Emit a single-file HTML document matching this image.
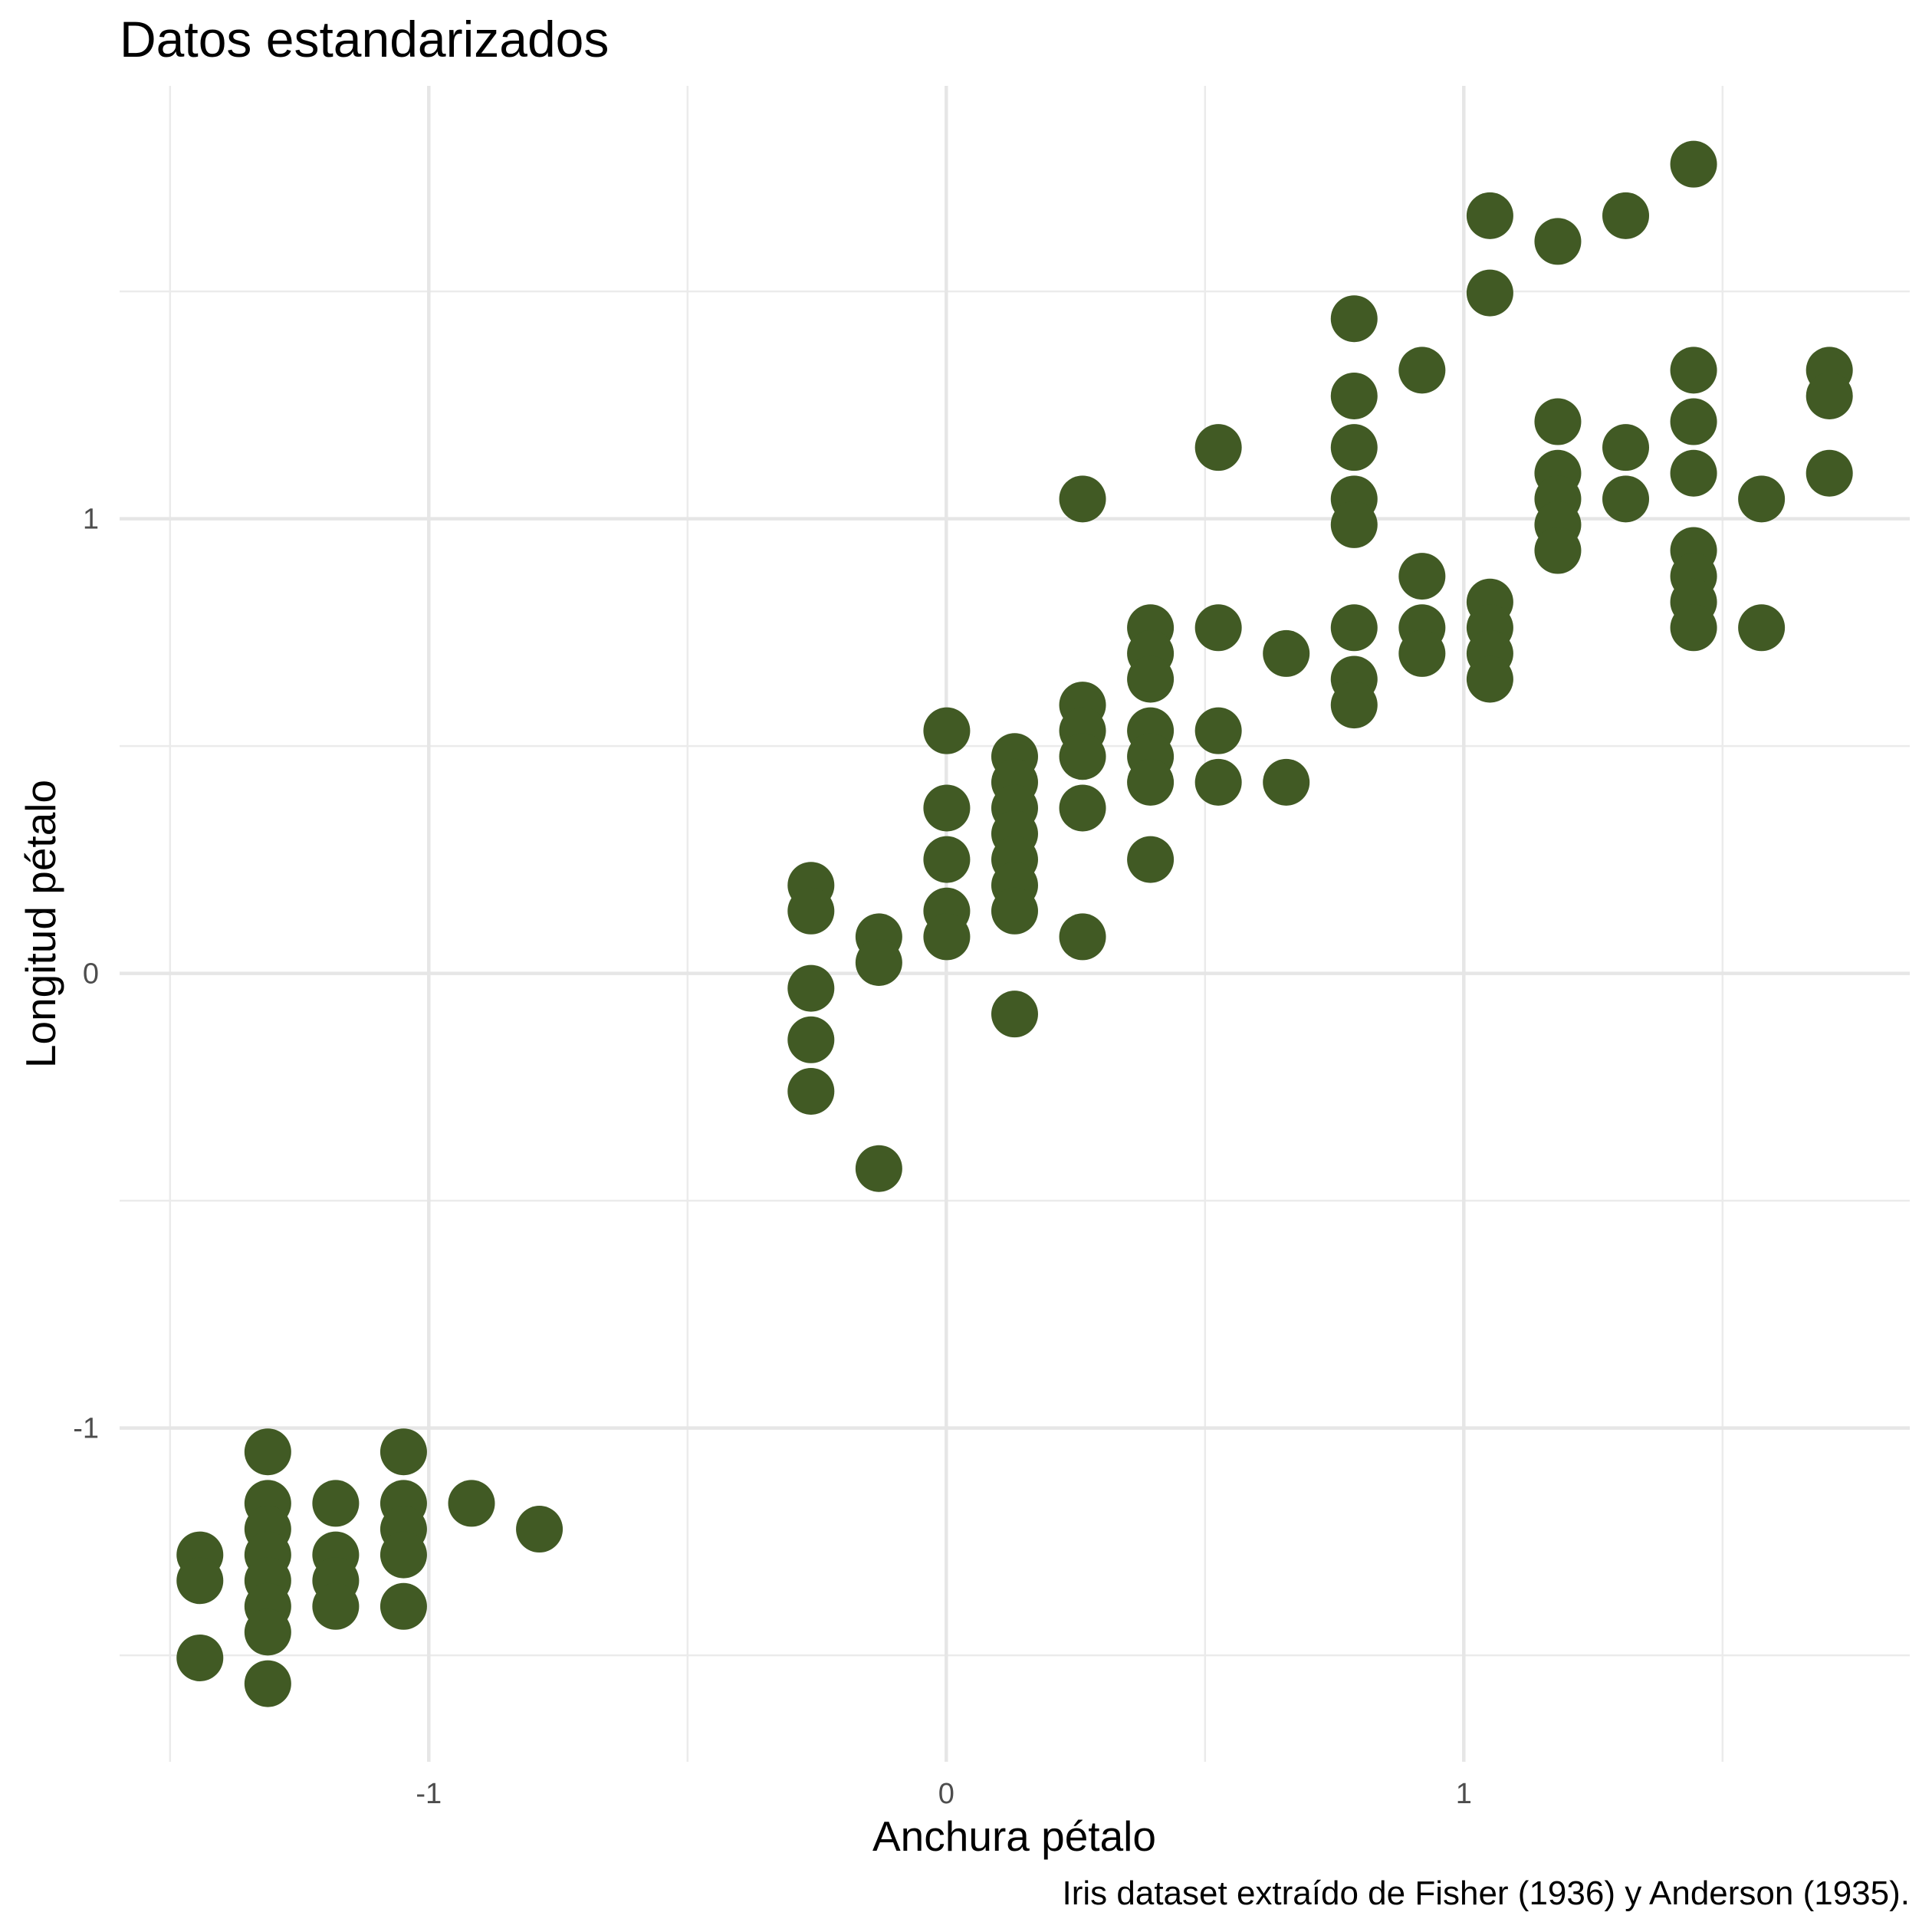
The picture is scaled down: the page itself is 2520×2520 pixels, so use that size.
<!DOCTYPE html>
<html>
<head>
<meta charset="utf-8">
<style>
  html, body { margin: 0; padding: 0; background: #ffffff; }
  svg { display: block; }
  text { font-family: "Liberation Sans", Arial, sans-serif; }
</style>
</head>
<body>
<svg id="chart" width="2520" height="2520" viewBox="0 0 2520 2520">
  <rect width="2520" height="2520" fill="#ffffff"/>
  <g id="grid"></g>
  <g id="points"></g>
  <g id="ticks"></g>
  <text x="156" y="74" font-size="66" fill="#000">Datos estandarizados</text>
  <text x="1323" y="2414" font-size="55" fill="#000" text-anchor="middle">Anchura pétalo</text>
  <text x="0" y="0" font-size="55" fill="#000" text-anchor="middle" transform="translate(72,1205) rotate(-90)">Longitud pétalo</text>
  <text x="2491" y="2484" font-size="44" fill="#000" text-anchor="end">Iris dataset extraído de Fisher (1936) y Anderson (1935).</text>
</svg>
<script>
const petalWidth = [
 0.1,0.1,0.1,
 0.2,0.2,0.2,0.2,0.2,0.2,0.2,0.2,
 0.3,0.3,0.3,0.3,
 0.4,0.4,0.4,0.4,0.4,
 0.5, 0.6,
 1.0,1.0,1.0,1.0,1.0,
 1.1,1.1,1.1,
 1.2,1.2,1.2,1.2,1.2,
 1.3,1.3,1.3,1.3,1.3,1.3,1.3,1.3,
 1.4,1.4,1.4,1.4,1.4,1.4,
 1.5,1.5,1.5,1.5,1.5,1.5,1.5,
 1.6,1.6,1.6,1.6,
 1.7,1.7,
 1.8,1.8,1.8,1.8,1.8,1.8,1.8,1.8,
 1.9,1.9,1.9,1.9,
 2.0,2.0,2.0,2.0,2.0,2.0,
 2.1,2.1,2.1,2.1,2.1,2.1,
 2.2,2.2,2.2,
 2.3,2.3,2.3,2.3,2.3,2.3,2.3,2.3,
 2.4,2.4,
 2.5,2.5,2.5
];
const petalLength = [
 1.5,1.4,1.1,
 1.9,1.7,1.6,1.5,1.4,1.3,1.2,1.0,
 1.7,1.5,1.4,1.3,
 1.9,1.7,1.6,1.5,1.3,
 1.7, 1.6,
 4.1,4.0,3.7,3.5,3.3,
 3.9,3.8,3.0,
 4.7,4.4,4.2,4.0,3.9,
 4.6,4.5,4.4,4.3,4.2,4.1,4.0,3.6,
 5.6,4.8,4.7,4.6,4.4,3.9,
 5.1,5.0,4.9,4.7,4.6,4.5,4.2,
 5.8,5.1,4.7,4.5,
 5.0,4.5,
 6.3,6.0,5.8,5.6,5.5,5.1,4.9,4.8,
 6.1,5.3,5.1,5.0,
 6.7,6.4,5.2,5.1,5.0,4.9,
 6.6,5.9,5.7,5.6,5.5,5.4,
 6.7,5.8,5.6,
 6.9,6.1,5.9,5.7,5.4,5.3,5.2,5.1,
 5.6,5.1,
 6.1,6.0,5.7
];
const xTickValues = [-1, 0, 1];
const xTickLabels = ["-1", "0", "1"];
const yTickValues = [-1, 0, 1];
const yTickLabels = ["-1", "0", "1"];
const xMinor = [-1.5, -0.5, 0.5, 1.5];
const yMinor = [-1.5, -0.5, 0.5, 1.5];

const wMean = 1.1993, wSd = 0.7622, lMean = 3.758, lSd = 1.7653;
const panel = {left: 156, right: 2491, top: 112, bottom: 2298};
function xScale(v) { return 1234.3 + v * 675; }
function yScale(v) { return 1269.6 - v * 593; }
const NS = "http://www.w3.org/2000/svg";
const grid = document.getElementById('grid');
const pts = document.getElementById('points');
const ticks = document.getElementById('ticks');

function line(x1, y1, x2, y2, w, col, name) {
  const l = document.createElementNS(NS, 'line');
  l.setAttribute('x1', x1); l.setAttribute('y1', y1);
  l.setAttribute('x2', x2); l.setAttribute('y2', y2);
  l.setAttribute('stroke', col); l.setAttribute('stroke-width', w);
  
  
  grid.appendChild(l);
}
xMinor.forEach(v => line(xScale(v), panel.top, xScale(v), panel.bottom, 2.5, '#ebebeb', 'x-minor-gridline'));
yMinor.forEach(v => line(panel.left, yScale(v), panel.right, yScale(v), 2.5, '#ebebeb', 'y-minor-gridline'));
xTickValues.forEach(v => line(xScale(v), panel.top, xScale(v), panel.bottom, 4.5, '#e6e6e6', 'x-major-gridline'));
yTickValues.forEach(v => line(panel.left, yScale(v), panel.right, yScale(v), 4.5, '#e6e6e6', 'y-major-gridline'));

xTickValues.forEach((v, i) => {
  const t = document.createElementNS(NS, 'text');
  t.setAttribute('x', xScale(v)); t.setAttribute('y', 2352);
  t.setAttribute('font-size', '38'); t.setAttribute('fill', '#4d4d4d');
  t.setAttribute('text-anchor', 'middle');
  t.textContent = xTickLabels[i];
  
  
  ticks.appendChild(t);
});
yTickValues.forEach((v, i) => {
  const t = document.createElementNS(NS, 'text');
  t.setAttribute('x', 129); t.setAttribute('y', yScale(v) + 13);
  t.setAttribute('font-size', '38'); t.setAttribute('fill', '#4d4d4d');
  t.setAttribute('text-anchor', 'end');
  t.textContent = yTickLabels[i];
  
  
  ticks.appendChild(t);
});

petalWidth.forEach((w, i) => {
  const c = document.createElementNS(NS, 'circle');
  c.setAttribute('cx', xScale((w - wMean) / wSd));
  c.setAttribute('cy', yScale((petalLength[i] - lMean) / lSd));
  c.setAttribute('r', 30.5);
  c.setAttribute('fill', '#415a24');
  
  
  pts.appendChild(c);
});
</script>
</body>
</html>
